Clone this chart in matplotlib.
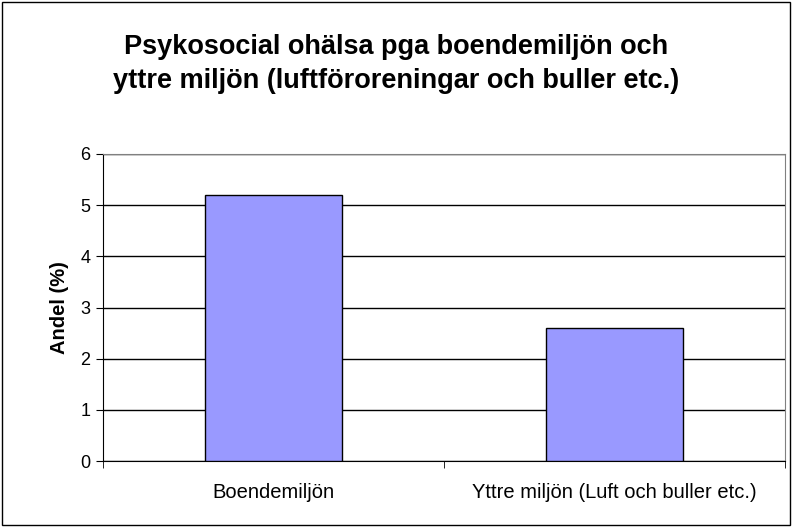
import matplotlib.pyplot as plt
from matplotlib.patches import Rectangle

categories = ['Boendemiljön', 'Yttre miljön (Luft och buller etc.)']
values = [5.2, 2.6]
yticks = [0, 1, 2, 3, 4, 5, 6]

plt.rcParams['font.family'] = ['Liberation Sans', 'DejaVu Sans']

fig = plt.figure(figsize=(7.92, 5.27), dpi=100)
ax = fig.add_axes([103 / 792, 1 - 461 / 527, 682 / 792, 307 / 527])

x = range(len(categories))
ax.bar(x, values, width=0.40, color='#9999ff', edgecolor='black', linewidth=1, zorder=3)

ax.set_xlim(-0.5, len(categories) - 0.5)
ax.set_ylim(0, 6)
ax.set_yticks(yticks)
ax.set_yticklabels([str(t) for t in yticks], fontsize=13)
ax.yaxis.grid(True, color='black', linewidth=1, zorder=0)
ax.set_axisbelow(True)

ax.set_xticks(list(x))
ax.set_xticklabels(categories, fontsize=14.5)
ax.tick_params(axis='x', length=0, pad=16)
ax.tick_params(axis='y', length=5, direction='out', pad=4)
# category boundary ticks
ax.set_xticks([-0.5, 0.5, 1.5], minor=True)
ax.tick_params(axis='x', which='minor', length=5, direction='out')

ax.spines['left'].set_color('black')
ax.spines['bottom'].set_color('black')
ax.spines['top'].set_color('#808080')
ax.spines['right'].set_color('#808080')

ax.set_ylabel('Andel (%)', fontsize=14.5, fontweight='bold', labelpad=8)

fig.text(0.5, 1 - 64 / 527, 'Psykosocial ohälsa pga boendemiljön och\nyttre miljön (luftföroreningar och buller etc.)',
         ha='center', va='center', fontsize=19.5, fontweight='bold', linespacing=1.35)

fig.patches.append(Rectangle((2 / 792, 2 / 527), 788 / 792, 523 / 527, transform=fig.transFigure,
                             fill=False, edgecolor='black', linewidth=1))

fig.savefig('out.png', dpi=100)
